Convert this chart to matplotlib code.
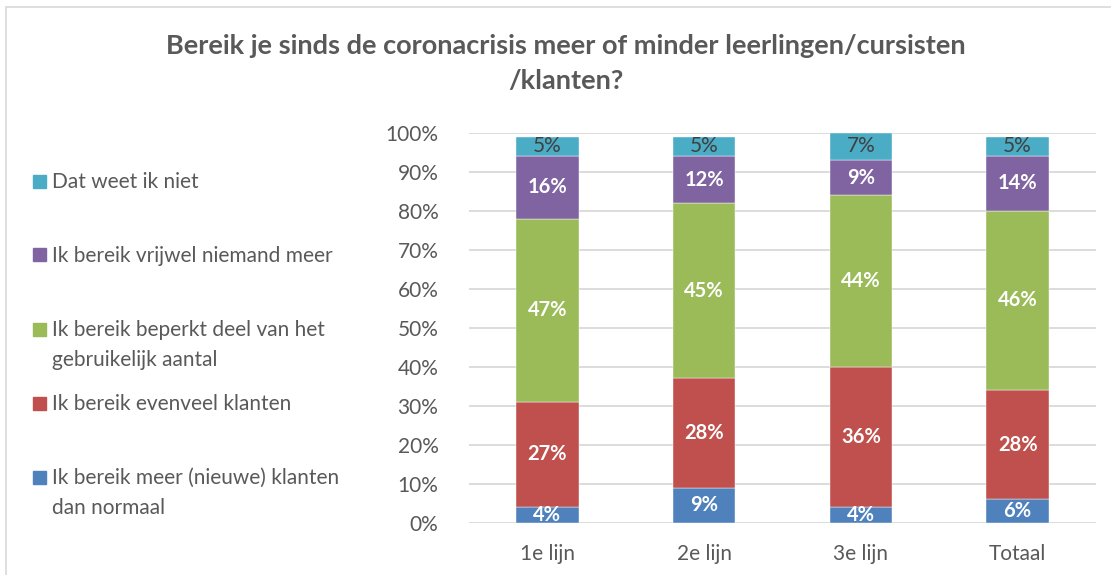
import numpy as np
import matplotlib
matplotlib.use("Agg")
import matplotlib.pyplot as plt
from matplotlib.patches import Rectangle

plt.rcParams['font.family'] = ['Lato', 'DejaVu Sans']

categories = ['1e lijn', '2e lijn', '3e lijn', 'Totaal']
meer = [4, 9, 4, 6]
evenveel = [27, 28, 36, 28]
beperkt = [47, 45, 44, 46]
niemand = [16, 12, 9, 14]
weet_niet = [5, 5, 7, 5]

series_names = ['Ik bereik meer (nieuwe) klanten\ndan normaal',
                'Ik bereik evenveel klanten',
                'Ik bereik beperkt deel van het\ngebruikelijk aantal',
                'Ik bereik vrijwel niemand meer',
                'Dat weet ik niet']
series_vals = [meer, evenveel, beperkt, niemand, weet_niet]
colors = ['#4F81BD', '#C0504D', '#9BBB59', '#8064A2', '#4BACC6']
text_col = '#595959'

W, H = 1111, 575
fig = plt.figure(figsize=(W / 100, H / 100), dpi=100)

# chart border (only top and left visible in the crop)
fig.patches.append(Rectangle((6 / W, -0.1), 1.2, (H - 7) / H + 0.1, transform=fig.transFigure,
                             fill=False, edgecolor='#D9D9D9', linewidth=1.2))

ax = fig.add_axes([469 / W, (H - 522.7) / H, (1096 - 469) / W, 390 / H])
x = np.arange(len(categories))
bottom = np.zeros(len(categories))
for name, vals, c in zip(series_names, series_vals, colors):
    vals = np.array(vals, dtype=float)
    ax.bar(x, vals, 0.4, bottom=bottom, color=c, edgecolor='white', linewidth=0.3, zorder=3)
    for xi, b, v in zip(x, bottom, vals):
        if c == '#4BACC6':
            ax.text(xi, b + v / 2, f'{int(v)}%', ha='center', va='center', fontsize=15,
                    color='#404040', zorder=4)
        else:
            ax.text(xi, b + v / 2, f'{int(v)}%', ha='center', va='center', fontsize=14.5,
                    fontweight='bold', color='white', zorder=4)
    bottom += vals

ax.set_xlim(-0.5, 3.5)
ax.set_ylim(0, 100)
ax.set_yticks(range(0, 101, 10))
ax.set_yticklabels([f'{t}%' for t in range(0, 101, 10)])
ax.set_xticks(x)
ax.set_xticklabels(categories)
ax.grid(axis='y', color='#D9D9D9', linewidth=1.3, zorder=0)
for s in ax.spines.values():
    s.set_visible(False)
ax.tick_params(length=0, labelsize=15, colors=text_col)
ax.tick_params(axis='y', pad=22)
ax.tick_params(axis='x', pad=15)

fig.text(566 / W, 1 - 46 / H, 'Bereik je sinds de coronacrisis meer of minder leerlingen/cursisten',
         ha='center', va='center', fontsize=19.5, fontweight='bold', color=text_col)
fig.text(566 / W, 1 - 81 / H, '/klanten?',
         ha='center', va='center', fontsize=19.5, fontweight='bold', color=text_col)

# legend, top entry first
leg_y = [477, 403, 329, 255, 181]
for name, c, yy in zip(series_names, colors, leg_y):
    fig.patches.append(Rectangle((33 / W, 1 - (yy + 6.5) / H), 13 / W, 13 / H,
                                 transform=fig.transFigure, color=c))
    fig.text(52 / W, 1 - (yy - 9) / H, name, ha='left', va='top', fontsize=15,
             color=text_col, linespacing=1.6)

fig.savefig('out.png', dpi=100)
